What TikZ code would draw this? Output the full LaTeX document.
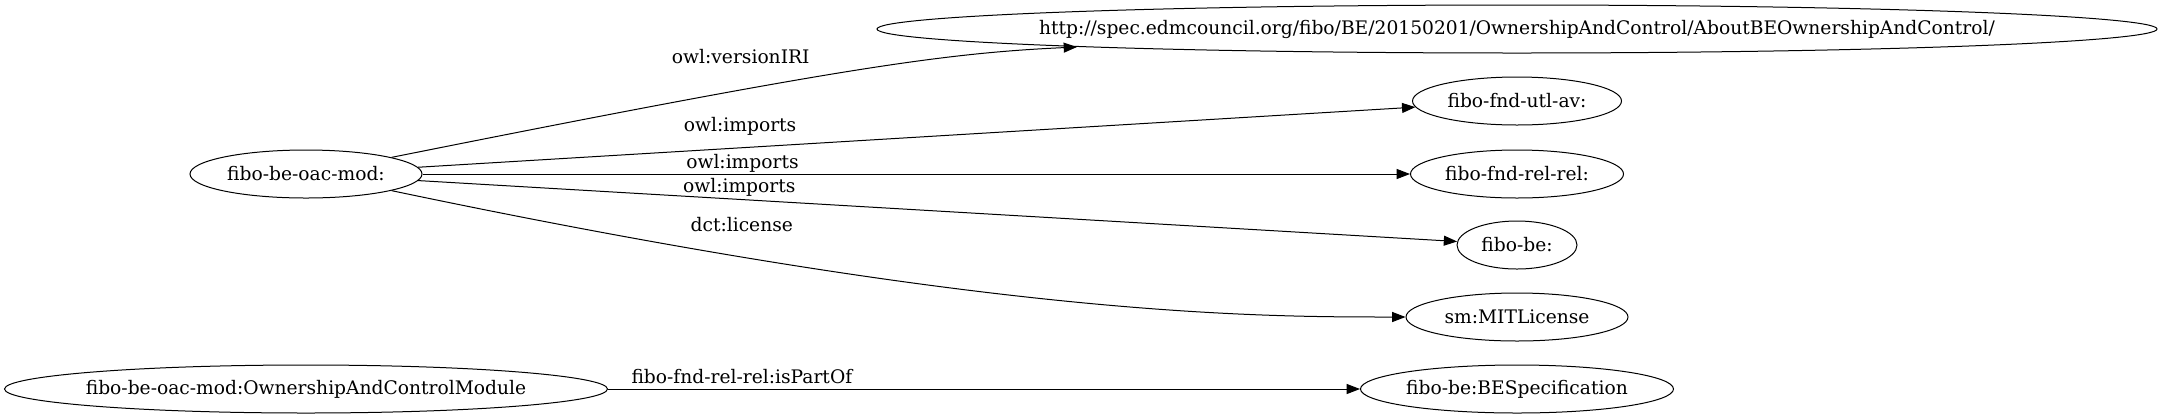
\documentclass[tikz,border=0pt]{standalone}
\usepackage{fontspec}
\setmainfont{DejaVu Serif}
\usetikzlibrary{arrows.meta,shapes.geometric}
\tikzset{
    resource/.style={ellipse,draw,line width=.75pt,inner xsep=-30pt,inner ysep=0pt,minimum height=36pt},
    prop/.style={-{Triangle[length=10pt,width=7.5pt]},line width=.75pt},
    plabel/.style={anchor=base,inner sep=0pt},
}
\tikzstyle{every node}=[font=\fontsize{14}{16}\selectfont]

\begin{document}
\begin{tikzpicture}[x=.75pt,y=-.75pt]
    \useasboundingbox (0,0) rectangle (2163,419);

    % ontology and its targets
    \node[resource,minimum width=174pt] (oac) at (306,174) {fibo-be-oac-mod:};
    \node[resource,minimum width=960pt] (about) at (1517,29)
        {http://spec.edmcouncil.org/fibo/BE/20150201/OwnershipAndControl/AboutBEOwnershipAndControl/};
    \node[resource,minimum width=156.75pt] (utlav) at (1517,101) {fibo-fnd-utl-av:};
    \node[resource,minimum width=159.75pt] (relrel) at (1517,174) {fibo-fnd-rel-rel:};
    \node[resource,minimum width=90pt] (be) at (1517,245) {fibo-be:};
    \node[resource,minimum width=166.5pt] (mit) at (1517,317) {sm:MITLicense};

    % module
    \node[resource,minimum width=452.25pt] (module) at (306,389) {fibo-be-oac-mod:OwnershipAndControlModule};
    \node[resource,minimum width=234.75pt] (bespec) at (1517,389) {fibo-be:BESpecification};

    \draw[prop] (oac.11) .. controls (843,67) and (947,53) .. ([shift={(-440,18)}]about.center)
        node[plabel,pos=.333,yshift=20pt] {owl:versionIRI};
    \draw[prop] (oac) -- (utlav)
        node[plabel,pos=.323,yshift=12.5pt] {owl:imports};
    \draw[prop] (oac) -- (relrel)
        node[plabel,pos=.324,yshift=4.5pt] {owl:imports};
    \draw[prop] (oac) -- (be)
        node[plabel,pos=.309,yshift=5pt] {owl:imports};
    \draw[prop] (oac.-11) .. controls (993,317) and (1256,317) .. (mit)
        node[plabel,pos=.22,yshift=18.9pt] {dct:license};
    \draw[prop] (module) -- (bespec)
        node[plabel,pos=.178,yshift=4.5pt] {fibo-fnd-rel-rel:isPartOf};
\end{tikzpicture}
\end{document}
